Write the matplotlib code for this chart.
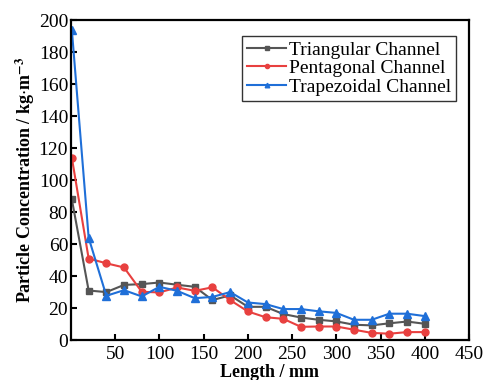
import matplotlib
matplotlib.use('Agg')
import matplotlib.pyplot as plt

plt.rcParams['font.family'] = ['Liberation Serif', 'DejaVu Serif']
plt.rcParams['mathtext.fontset'] = 'stix'

length = [1, 20, 40, 60, 80, 100, 120, 140, 160, 180, 200,
          220, 240, 260, 280, 300, 320, 340, 360, 380, 400]
triangular = [88, 31, 30, 34.5, 35, 36, 34.6, 33.3, 25, 28, 20.8,
              20.8, 16.3, 14.1, 12.7, 11.7, 9.6, 9.2, 10.5, 11.6, 10.2]
pentagonal = [114, 51, 48, 45.4, 30.2, 29.8, 32.9, 30.8, 33, 25, 17.9,
              14.3, 13.3, 8.3, 8.5, 8.5, 6.5, 4.5, 4, 5, 5]
trapezoidal = [194, 64, 27.7, 31.2, 27.3, 33.3, 30.8, 26.2, 27, 30, 23.5,
               22.5, 19.4, 19.4, 18, 17, 12.7, 12.7, 16.5, 16.5, 15]

fig = plt.figure(figsize=(4.86, 3.8), dpi=100)
ax = fig.add_axes([0.146, 0.105, 0.819, 0.842])

ax.plot(length, triangular, color='#555555', marker='s', ms=5, lw=1.5,
        label='Triangular Channel')
ax.plot(length, pentagonal, color='#e8403f', marker='o', ms=5, lw=1.5,
        label='Pentagonal Channel')
ax.plot(length, trapezoidal, color='#1f6fd8', marker='^', ms=5.5, lw=1.5,
        label='Trapezoidal Channel')

ax.set_xlim(0, 450)
ax.set_ylim(0, 200)
ax.set_xticks([50, 100, 150, 200, 250, 300, 350, 400, 450])
ax.set_yticks(range(0, 201, 20))
ax.tick_params(direction='in', labelsize=14, width=1.5, length=4, pad=2)
ax.tick_params(axis='x', pad=4)
for s in ax.spines.values():
    s.set_linewidth(1.6)

ax.set_xlabel('Length / mm', fontsize=13, fontweight='bold', labelpad=1)
ax.set_ylabel(r'Particle Concentration / kg$\cdot$m$^{\mathbf{-3}}$',
              fontsize=13, fontweight='bold', labelpad=1)

leg = ax.legend(loc='upper right', bbox_to_anchor=(0.967, 0.95), fontsize=14,
                frameon=True, fancybox=False, edgecolor='black',
                handlelength=2.0, borderpad=0.25, labelspacing=0.05,
                handletextpad=0.15, borderaxespad=0, markerscale=0.6)
leg.get_frame().set_linewidth(1.0)

fig.savefig('out.png', dpi=100)
